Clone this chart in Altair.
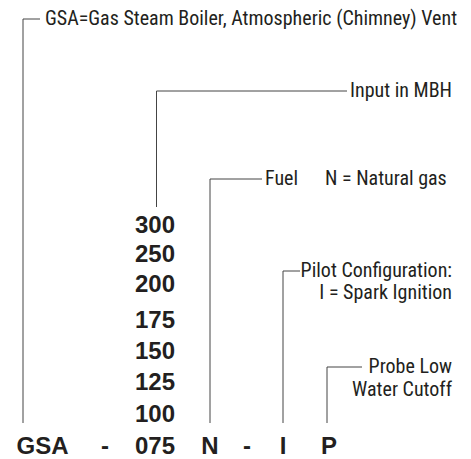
import altair as alt
import pandas as pd

# ---- content ----
code_parts = ["GSA", "-", "075", "N", "-", "I", "P"]
code_x = [42.5, 105, 175, 210, 247, 283, 329]
code_align = ["center", "center", "right", "center", "center", "center", "center"]
code_row_y = 447

input_sizes = ["300", "250", "200", "175", "150", "125", "100"]
input_y = [226, 255, 285, 321, 352, 383, 415]
input_right_x = 175

left_labels = ["GSA=Gas Steam Boiler, Atmospheric (Chimney) Vent", "Input in MBH", "Fuel", "N = Natural gas"]
left_x = [45, 350, 265, 325]
left_y = [19, 91, 179, 179]

right_labels = ["Pilot Configuration:", "I = Spark Ignition", "Probe Low", "Water Cutoff"]
right_x = [452, 452, 452, 452]
right_y = [271, 293, 367, 390]

# leader lines: (x, x2, y, y2)
seg_x = [23, 23, 156.5, 156.5, 210, 210, 283, 283, 327, 327]
seg_x2 = [40, 23, 347, 156.5, 262, 210, 300, 283, 362, 327]
seg_y = [19, 19, 91, 91, 179, 179, 271, 271, 367, 367]
seg_y2 = [19, 423, 91, 207, 179, 423, 271, 423, 367, 423]

# ---- frames ----
codes = pd.DataFrame({"t": code_parts, "x": code_x, "y": code_row_y, "a": code_align})
sizes = pd.DataFrame({"t": input_sizes, "x": input_right_x, "y": input_y})
lefts = pd.DataFrame({"t": left_labels, "x": left_x, "y": left_y})
rights = pd.DataFrame({"t": right_labels, "x": right_x, "y": right_y})
segs = pd.DataFrame({"x": seg_x, "x2": seg_x2, "y": seg_y, "y2": seg_y2})

W, H = 455, 443
xs = alt.Scale(domain=[8, 8 + W], nice=False, zero=False)
ys = alt.Scale(domain=[8, 8 + H], nice=False, zero=False, reverse=True)
X = alt.X("x:Q", scale=xs, axis=None)
Y = alt.Y("y:Q", scale=ys, axis=None)

INK = "#231f20"
REG = "Liberation Sans Narrow, Roboto Condensed, Arial Narrow, sans-serif"
BOLD = "Liberation Sans, Arial, Helvetica, sans-serif"

lines = alt.Chart(segs).mark_rule(color="#444444", strokeWidth=1).encode(
    x=X, x2="x2:Q", y=Y, y2="y2:Q"
)

code_center = alt.Chart(codes).transform_filter("datum.a == 'center'").mark_text(
    font=BOLD, fontSize=24, fontWeight="bold", color=INK, align="center", baseline="middle"
).encode(x=X, y=Y, text="t:N")

code_right = alt.Chart(codes).transform_filter("datum.a == 'right'").mark_text(
    font=BOLD, fontSize=24, fontWeight="bold", color=INK, align="right", baseline="middle"
).encode(x=X, y=Y, text="t:N")

size_text = alt.Chart(sizes).mark_text(
    font=BOLD, fontSize=24, fontWeight="bold", color=INK, align="right", baseline="middle"
).encode(x=X, y=Y, text="t:N")

left_text = alt.Chart(lefts).mark_text(
    font=REG, fontSize=20, color=INK, align="left", baseline="middle"
).encode(x=X, y=Y, text="t:N")

right_text = alt.Chart(rights).mark_text(
    font=REG, fontSize=20, color=INK, align="right", baseline="middle"
).encode(x=X, y=Y, text="t:N")

chart = alt.layer(lines, code_center, code_right, size_text, left_text, right_text).properties(
    width=W, height=H, padding=0
).configure_view(stroke=None)

chart.save("out.html", embed_options={"renderer": "svg", "actions": False})
